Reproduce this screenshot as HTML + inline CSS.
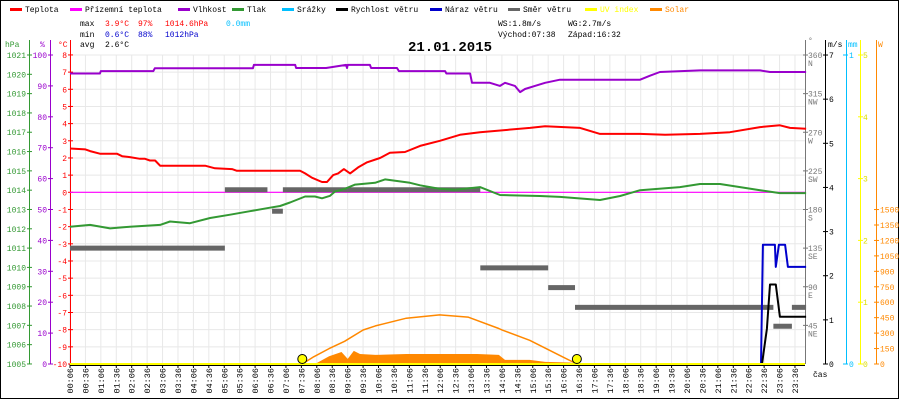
<!DOCTYPE html>
<html><head><meta charset="utf-8">
<style>
html,body{margin:0;padding:0;background:#fff}
svg{display:block}
text{font-family:"Liberation Mono",monospace;font-size:8px}
</style></head>
<body>
<svg id="c" width="900" height="400" viewBox="0 0 900 400">
<rect x="0.5" y="0.5" width="898" height="398" fill="#fff" stroke="#000"/>
<g id="grid"></g>
<g id="legend"></g>
<g>
<text x="80" y="26" fill="#000">max</text><text x="105" y="26" fill="#f00">3.9°C</text><text x="138" y="26" fill="#f00">97%</text><text x="165" y="26" fill="#f00">1014.6hPa</text><text x="226" y="26" fill="#00bfff">0.0mm</text>
<text x="80" y="37" fill="#000">min</text><text x="105" y="37" fill="#00c">0.6°C</text><text x="138" y="37" fill="#00c">88%</text><text x="165" y="37" fill="#00c">1012hPa</text>
<text x="80" y="47" fill="#000">avg</text><text x="105" y="47" fill="#000">2.6°C</text>
<text x="498" y="26" fill="#000">WS:1.8m/s</text><text x="568" y="26" fill="#000">WG:2.7m/s</text>
<text x="498" y="37" fill="#000">Východ:07:38</text><text x="568" y="37" fill="#000">Západ:16:32</text>
</g>
<text x="450" y="51" text-anchor="middle" style="font-size:14px;font-weight:bold">21.01.2015</text>
<g id="axes"></g>
<g id="series"></g>
</svg>
<script>
// ---- data ----
const tempHours=[0.1,0.6,0.75,1.07,1.62,1.79,2.04,2.37,2.53,2.69,2.86,3.02,4.48,4.8,5.35,5.51,7.56,7.72,7.94,8.27,8.43,8.63,8.79,8.98,9.18,9.44,9.73,10.15,10.47,10.96,11.45,12.09,12.74,13.39,15.01,15.5,16.63,17.28,18.58,19.39,20.52,21.49,22.47,23.11,23.44,23.96];
const tempVals=[2.55,2.5,2.4,2.25,2.25,2.1,2.05,1.95,1.95,1.85,1.85,1.55,1.55,1.4,1.35,1.25,1.25,1.1,0.85,0.6,0.6,1.0,1.1,1.35,1.1,1.45,1.75,2.0,2.3,2.35,2.7,3.0,3.35,3.5,3.75,3.85,3.75,3.4,3.4,3.35,3.4,3.5,3.8,3.9,3.75,3.7];
const humHours=[0.1,1.07,1.1,2.8,2.85,6.03,6.06,7.4,7.43,8.4,9.05,9.08,9.1,9.82,9.86,10.7,10.76,12.26,12.3,13.07,13.13,13.71,14.04,14.2,14.52,14.69,14.85,15.17,15.5,15.98,18.58,18.9,19.22,20.52,22.47,22.79,23.96];
const humVals=[94,94,94.8,94.8,95.7,95.7,96.8,96.8,95.8,95.8,96.8,95.8,96.8,96.8,95.8,95.8,94.8,94.8,94,94,91,91,90,91,90,88,89,90,91,92,92,93.3,94.5,95,95,94.5,94.5];
const presHours=[0.1,0.75,1.4,2.04,3.02,3.34,3.99,4.64,5.29,5.93,6.58,6.91,7.23,7.72,8.04,8.27,8.53,8.69,9.01,9.34,9.99,10.31,11.12,11.45,11.77,12.09,12.58,13.39,14.04,15.33,15.98,17.28,17.93,18.58,19.87,20.52,21.17,21.82,22.47,23.11,23.96];
const presVals=[1012.11,1012.2,1012.02,1012.11,1012.2,1012.38,1012.29,1012.56,1012.73,1012.91,1013.09,1013.18,1013.36,1013.67,1013.67,1013.58,1013.71,1013.93,1014.07,1014.29,1014.38,1014.56,1014.38,1014.25,1014.16,1014.07,1014.02,1014.16,1013.75,1013.7,1013.65,1013.49,1013.7,1014.0,1014.16,1014.32,1014.32,1014.16,1014.0,1013.85,1013.85];
const dirStart=[0.1,5.12,6.65,7.0,13.4,15.6,16.47,22.9,23.5];
const dirEnd=[5.12,6.5,7.0,13.4,15.6,16.47,22.9,23.5,23.96];
const dirVals=[135,203,178,203,112,89,66,44,66];
const windHours=[0.1,22.53,22.69,22.79,22.98,23.11,23.96];
const windVals=[0,0,0.8,1.8,1.8,1.07,1.07];
const gustHours=[0.1,22.5,22.56,22.95,22.98,23.08,23.28,23.37,23.96];
const gustVals=[0,0,2.7,2.7,2.2,2.7,2.7,2.2,2.2];
const solarHours=[7.63,8.1,8.5,8.9,9.1,9.3,9.5,10,11,12,13,13.3,14.0,14.2,15.0,15.5,16.3,16.5,16.6];
const solarVals=[0,10,75,117,50,127,97,88,97,97,97,97,88,40,40,20,15,5,0];
const clearHours=[7.63,8,8.5,9,9.6,10,11,12.08,13,14,14.1,15,16,16.53];
const clearVals=[0,70,150,220,330,370,445,477,455,345,331,230,80,0];
const sunEvents=[7.63,16.53];
const tickLabels=[];
for(let h=0;h<24;h++){for(const m of [6,36]){tickLabels.push(String(h).padStart(2,'0')+':'+String(m).padStart(2,'0'));}}
const hpaTicks=[1021,1020,1019,1018,1017,1016,1015,1014,1013,1012,1011,1010,1009,1008,1007,1006,1005];
const humTicks=[100,90,80,70,60,50,40,30,20,10,0];
const tempTicks=[8,7,6,5,4,3,2,1,0,-1,-2,-3,-4,-5,-6,-7,-8,-9,-10];
const dirTicks=[360,315,270,225,180,135,90,45];
const dirNames=['N','NW','W','SW','S','SE','E','NE'];
const msTicks=[7,6,5,4,3,2,1,0];
const uvTicks=[5,4,3,2,1,0];
const solTicks=[1500,1350,1200,1050,900,750,600,450,300,150,0];
// ---- scales ----
const xS=h=>70+(h-0.1)*30.85;
const yT=t=>192.3-t*17.17;
const yP=p=>55+(1021-p)*19.31;
const yH=v=>364-v*3.09;
const yD=d=>364-d*0.8583;
const yW=v=>364-v*44.14;
const yS=w=>364-w*0.10297;
const NS='http://www.w3.org/2000/svg';
function mk(tag,attrs,parent,txt){const e=document.createElementNS(NS,tag);for(const k in attrs)e.setAttribute(k,attrs[k]);if(txt!==undefined)e.textContent=txt;parent.appendChild(e);return e;}
const grid=document.getElementById('grid'),axes=document.getElementById('axes'),ser=document.getElementById('series'),leg=document.getElementById('legend');
tempTicks.forEach(t=>{const l=mk('line',{x1:70,x2:805,y1:yT(t),y2:yT(t),stroke:'#e8e8e8'},grid);

});
tickLabels.forEach((lab,i)=>{const h=0.1+i*0.5;const x=xS(h);
const l=mk('line',{x1:x,x2:x,y1:55,y2:364,stroke:'#e8e8e8'},grid);


mk('line',{x1:x,x2:x,y1:364,y2:368,stroke:'#000'},axes);
const t=mk('text',{x:0,y:0,transform:`translate(${x+3},368) rotate(-90)`,'text-anchor':'end',fill:'#000',style:'font-size:8.5px'},axes,lab);

});
mk('text',{x:813,y:377,fill:'#000'},axes,'čas');
const legItems=[['Teplota','#f00',10],['Přízemní teplota','#f0f',70],['Vlhkost','#90c',178],['Tlak','#393',232],['Srážky','#00bfff',282],['Rychlost větru','#000',336],['Náraz větru','#00c',430],['Směr větru','#666',508],['UV index','#ff0',585],['Solar','#f80',650]];
legItems.forEach(([n,c,x])=>{const g=mk('g',{},leg);


mk('rect',{x:x,y:8,width:12,height:3,fill:c},g);mk('text',{x:x+15,y:12,fill:(c=='#ff0'||c=='#f80')?c:'#000'},g,n);});
function vline(x,y1,y2,c){mk('line',{x1:x,x2:x,y1:y1,y2:y2,stroke:c},axes);}
vline(29.5,40,364,'#393');vline(50.5,40,364,'#90c');vline(70.5,40,364,'#f00');
mk('text',{x:5,y:47,fill:'#393'},axes,'hPa');mk('text',{x:40,y:47,fill:'#90c'},axes,'%');mk('text',{x:58,y:47,fill:'#f00'},axes,'°C');
hpaTicks.forEach(v=>{const y=yP(v);mk('line',{x1:27,x2:32,y1:y,y2:y,stroke:'#393'},axes);mk('text',{x:26,y:y+3,'text-anchor':'end',fill:'#393'},axes,v);});
humTicks.forEach(v=>{const y=yH(v);mk('line',{x1:48,x2:53,y1:y,y2:y,stroke:'#90c'},axes);mk('text',{x:47,y:y+3,'text-anchor':'end',fill:'#90c'},axes,v);});
tempTicks.forEach(v=>{const y=yT(v);mk('line',{x1:68,x2:73,y1:y,y2:y,stroke:'#f00'},axes);mk('text',{x:67,y:y+3,'text-anchor':'end',fill:'#f00'},axes,v);});
vline(805.5,40,364,'#777');vline(825.5,40,364,'#000');vline(846.5,40,364,'#00bfff');vline(860.5,40,364,'#ff0');vline(876.5,40,364,'#f80');
mk('text',{x:808,y:43,fill:'#777'},axes,'°');mk('text',{x:828,y:47,fill:'#000'},axes,'m/s');mk('text',{x:848,y:47,fill:'#00bfff'},axes,'mm');mk('text',{x:878,y:47,fill:'#f80'},axes,'W');
dirTicks.forEach((v,i)=>{const y=yD(v);mk('line',{x1:803,x2:808,y1:y,y2:y,stroke:'#777'},axes);mk('text',{x:808,y:y+3,fill:'#777'},axes,v);mk('text',{x:808,y:y+11,fill:'#777'},axes,dirNames[i]);});
msTicks.forEach(v=>{const y=yW(v);mk('line',{x1:823,x2:828,y1:y,y2:y,stroke:'#000'},axes);mk('text',{x:829,y:y+3,fill:'#000'},axes,v);});
mk('line',{x1:843,x2:848,y1:55,y2:55,stroke:'#00bfff'},axes);mk('text',{x:849,y:58,fill:'#00bfff'},axes,'1');
mk('line',{x1:843,x2:848,y1:364,y2:364,stroke:'#00bfff'},axes);mk('text',{x:849,y:367,fill:'#00bfff'},axes,'0');
uvTicks.forEach(v=>{const y=364-v*61.8;mk('line',{x1:858,x2:863,y1:y,y2:y,stroke:'#ff0'},axes);mk('text',{x:863,y:y+3,fill:'#dd0'},axes,v);});
solTicks.forEach(v=>{const y=yS(v);mk('line',{x1:874,x2:879,y1:y,y2:y,stroke:'#f80'},axes);mk('text',{x:880,y:y+3,fill:'#f80'},axes,v);});
function pl(hs,vs,xf,yf,c,w,name){const pts=hs.map((h,i)=>xf(h).toFixed(1)+','+yf(vs[i]).toFixed(1)).join(' ');
const p=mk('polyline',{points:pts,fill:'none',stroke:c,'stroke-width':w,'stroke-linejoin':'round'},ser);

return p;}
{const pts=[xS(solarHours[0])+','+364].concat(solarHours.map((h,i)=>xS(h).toFixed(1)+','+yS(solarVals[i]).toFixed(1))).concat([xS(solarHours[solarHours.length-1])+','+364]).join(' ');
const p=mk('polygon',{points:pts,fill:'#f80'},ser);

}
pl(clearHours,clearVals,xS,yS,'#f80',1.5,'clear-sky-solar-line');
{const l=mk('line',{x1:70,x2:805,y1:yT(0),y2:yT(0),stroke:'#f0f','stroke-width':1.2},ser);

}
dirVals.forEach((d,i)=>{const r=mk('rect',{x:xS(dirStart[i]),y:yD(d)-2.5,width:xS(dirEnd[i])-xS(dirStart[i]),height:5,fill:'#666'},ser);

});
pl(presHours,presVals,xS,yP,'#393',2,'pressure-line');
pl(tempHours,tempVals,xS,yT,'#f00',2,'temperature-line');
pl(humHours,humVals,xS,yH,'#90c',2,'humidity-line');
pl(gustHours,gustVals,xS,yW,'#00c',2,'wind-gust-line');
pl(windHours,windVals,xS,yW,'#000',2,'wind-speed-line');
{const l=mk('line',{x1:70,x2:805,y1:364,y2:364,stroke:'#ff0','stroke-width':2},ser);

}
mk('line',{x1:70,x2:805,y1:365.5,y2:365.5,stroke:'#000','stroke-width':1},ser);
sunEvents.forEach(h=>{const c=mk('circle',{cx:xS(h),cy:359,r:4.5,fill:'#ff0',stroke:'#000'},ser);

});
</script>
</body></html>
